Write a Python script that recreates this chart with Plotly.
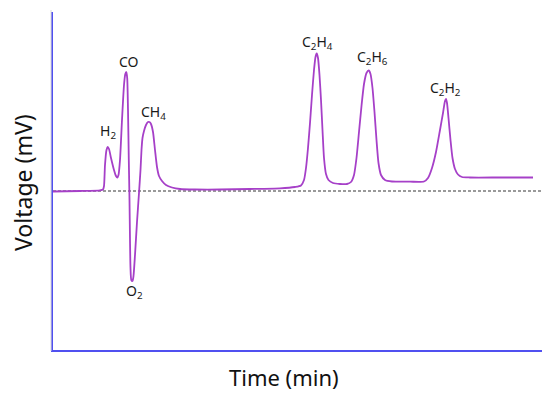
import plotly.graph_objects as go

# chromatogram trace (time in arbitrary units, voltage in arbitrary mV)
time = [0, 27, 47, 50, 51, 52, 53.5, 54.7, 56, 58, 61, 63, 64.3, 65.5, 67, 69, 71, 72.3, 73.3,
        74.2, 75, 75.8, 76.5, 77, 77.5, 78.3, 79.5, 80.5, 82, 84, 86, 87.5, 88.5, 89.5, 91, 93,
        95, 96.5, 98, 100, 102, 104, 106, 109, 113, 119, 127, 142, 167, 197, 227, 242, 248, 251,
        253, 255, 257, 259, 261, 262.5, 263.7, 265, 266.5, 268, 269.5, 271, 273, 275.5, 280, 287,
        294, 298, 301, 303.5, 306, 308.5, 311, 313.5, 315.7, 317.5, 319.5, 321.5, 323.5, 325.5,
        328, 332, 339, 357, 371, 375, 379, 383, 387, 390, 392, 393, 394, 395.5, 397.5, 399.5, 402,
        405, 409, 417, 447, 480]
voltage = [-0.5, 0, 0.7, 1.5, 5, 26, 41, 44, 42, 33, 21, 15, 13.5, 16, 31, 71, 106, 117, 119,
           113, 81, 31, -9, -49, -77, -89, -90, -85, -64, -31, -2, 21, 41, 53, 60, 66, 69, 69, 67,
           59, 41, 24, 15, 10, 6, 3.5, 2, 1.5, 1.5, 2, 2.7, 4, 5.5, 11, 23, 43, 68, 96, 121, 134,
           137.5, 133, 116, 91, 61, 33, 17, 11, 8, 7, 7, 9, 16, 33, 59, 85, 107, 118, 120.5, 117,
           103, 79, 51, 28, 16, 11, 9.5, 9.3, 9.5, 13, 23, 39, 61, 78, 90, 92, 88, 73, 51, 33, 22,
           16.5, 14, 13.5, 13.5, 13.5]

# peak labels and where they sit
peak_labels = ["H<sub>2</sub>", "CO", "CH<sub>4</sub>", "O<sub>2</sub>",
               "C<sub>2</sub>H<sub>4</sub>", "C<sub>2</sub>H<sub>6</sub>", "C<sub>2</sub>H<sub>2</sub>"]
label_time = [54.5, 75.5, 100, 81.5, 264.5, 319, 392.5]
label_voltage = [60, 130, 79, -100, 149, 134, 103]

purple = "#a640c8"
axis_blue = "#5050f0"

fig = go.Figure()

fig.add_trace(go.Scatter(
    x=time, y=voltage,
    mode="lines",
    line=dict(color=purple, width=1.8, shape="spline", smoothing=0.6),
    showlegend=False,
    hoverinfo="skip",
))

# dashed zero baseline
fig.add_shape(type="line", xref="x", yref="y", x0=0, x1=490, y0=0, y1=0,
              line=dict(color="#7a7a7a", width=1.3, dash="3px,2px"), layer="below")
# faint grey shadow next to the y axis
fig.add_shape(type="line", xref="paper", yref="paper", x0=-0.004, x1=-0.004, y0=-0.003, y1=1.006,
              line=dict(color="#d8d8d8", width=1))

for txt, tx, ty in zip(peak_labels, label_time, label_voltage):
    fig.add_annotation(x=tx, y=ty, text=txt, showarrow=False,
                       font=dict(size=14, color="#1a1a1a", family="Noto Sans"))

# axis titles as annotations, the x one sits left of centre in the reference
fig.add_annotation(xref="paper", yref="paper", x=0.471, y=0, yshift=-27, yanchor="middle",
                   text="Time (min)", showarrow=False, font=dict(size=22, color="#111111"))
fig.add_annotation(xref="paper", yref="paper", x=0, y=0.5, xshift=-30, yshift=-2,
                   xanchor="center", yanchor="middle", textangle=-90,
                   text="Voltage (mV)", showarrow=False, font=dict(size=23, color="#111111"))

# page body adds an 8px offset, so the figure is a bit smaller than the window
fig.update_layout(
    width=542, height=387,
    margin=dict(l=45, r=7, t=4, b=45),
    plot_bgcolor="white",
    paper_bgcolor="white",
    font=dict(family="Noto Sans", color="#111111"),
    xaxis=dict(range=[0, 490], showgrid=False, zeroline=False, showticklabels=False, ticks="",
               showline=True, linecolor=axis_blue, linewidth=1.5, automargin=False),
    yaxis=dict(range=[-159, 179], showgrid=False, zeroline=False, showticklabels=False, ticks="",
               showline=True, linecolor=axis_blue, linewidth=1.5, automargin=False),
)

fig.write_html("out.html")
